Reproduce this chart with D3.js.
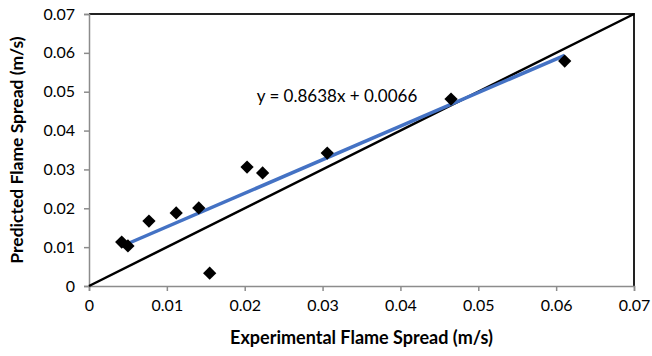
<!DOCTYPE html>
<html>
<head>
<meta charset="utf-8">
<script src="https://cdn.jsdelivr.net/npm/d3@7"></script>
<style>
  body { margin: 0; background: #fff; }
  svg { font-family: Lato, "Open Sans", sans-serif; }
</style>
</head>
<body>
<div id="chart"></div>
<script>
// experimental vs predicted flame spread (m/s)
const experimental = [0.0042, 0.0050, 0.0077, 0.0112, 0.0141, 0.0155, 0.0203, 0.0223, 0.0306, 0.0465, 0.0611];
const predicted    = [0.0113, 0.0103, 0.0167, 0.0188, 0.0201, 0.0033, 0.0306, 0.0291, 0.0342, 0.0481, 0.0579];
const slope = 0.8638, intercept = 0.0066;
const ticks = [0, 0.01, 0.02, 0.03, 0.04, 0.05, 0.06, 0.07];

const width = 652, height = 356;
const margin = { top: 14, right: 18, bottom: 70, left: 89 };

const svg = d3.select('#chart')
  .append('svg')
  .attr('width', width)
  .attr('height', height);

const x = d3.scaleLinear()
  .domain([0, 0.07])
  .range([margin.left, width - margin.right]);

const y = d3.scaleLinear()
  .domain([0, 0.07])
  .range([height - margin.bottom, margin.top]);

// plot area border (top/right)
svg.append('path')
  .attr('d', `M${x(0)},${y(0.07)}H${x(0.07)}V${y(0)}`)
  .attr('fill', 'none')
  .attr('stroke', '#222')
  .attr('stroke-width', 2);

function xAxis(g) {
  g.attr('transform', `translate(0,${y(0)})`)
    .call(d3.axisBottom(x).tickValues(ticks).tickSize(5).tickPadding(9)
      .tickFormat(d => d === 0 ? '0' : d3.format('.2f')(d)))
    .attr('font-size', '16px')
    .attr('font-family', null);
  g.selectAll('.domain, line').attr('stroke', '#8c8c8c').attr('stroke-width', 1.5);
  g.selectAll('text').attr('fill', '#000');
}

function yAxis(g) {
  g.attr('transform', `translate(${x(0)},0)`)
    .call(d3.axisLeft(y).tickValues(ticks).tickSize(5).tickPadding(9)
      .tickFormat(d => d === 0 ? '0' : d3.format('.2f')(d)))
    .attr('font-size', '16px')
    .attr('font-family', null);
  g.selectAll('.domain, line').attr('stroke', '#8c8c8c').attr('stroke-width', 1.5);
  g.selectAll('text').attr('fill', '#000');
}

svg.append('g').call(xAxis);
svg.append('g').call(yAxis);

// 1:1 line
svg.append('line')
  .attr('x1', x(0)).attr('y1', y(0))
  .attr('x2', x(0.07)).attr('y2', y(0.07))
  .attr('stroke', '#000')
  .attr('stroke-width', 2.5);

// linear fit
const xmin = d3.min(experimental), xmax = d3.max(experimental);
svg.append('line')
  .attr('x1', x(xmin)).attr('y1', y(slope * xmin + intercept))
  .attr('x2', x(xmax)).attr('y2', y(slope * xmax + intercept))
  .attr('stroke', '#4472c4')
  .attr('stroke-width', 3.5);

// points
const diamond = d3.symbol().type(d3.symbolSquare).size(88);
svg.append('g')
  .selectAll('path')
  .data(experimental.map((d, i) => [d, predicted[i]]))
  .join('path')
    .attr('d', diamond)
    .attr('transform', d => `translate(${x(d[0])},${y(d[1])}) rotate(45)`)
    .attr('fill', '#000');

svg.append('text')
  .attr('x', 337)
  .attr('y', 102)
  .attr('font-size', '17px')
  .attr('text-anchor', 'middle')
  .text(`y = ${slope}x + ${intercept}`);

svg.append('text')
  .attr('x', (x(0) + x(0.07)) / 2)
  .attr('y', 344)
  .attr('font-size', '18px')
  .attr('font-weight', 'bold')
  .attr('text-anchor', 'middle')
  .text('Experimental Flame Spread (m/s)');

svg.append('text')
  .attr('transform', `translate(23,${(y(0) + y(0.07)) / 2}) rotate(-90)`)
  .attr('font-size', '17.5px')
  .attr('font-weight', 'bold')
  .attr('text-anchor', 'middle')
  .text('Predicted Flame Spread (m/s)');
</script>
</body>
</html>
